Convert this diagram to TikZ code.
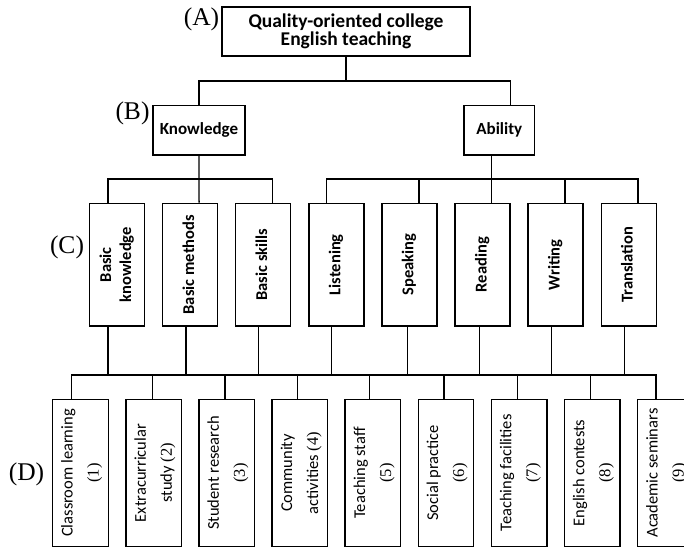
\documentclass[tikz,border=0pt]{standalone}
\usepackage{fontspec}
\setmainfont{Carlito}
\newfontfamily\seriffont{Liberation Serif}
\usepackage{graphicx}
\newcommand{\uptext}[1]{\rotatebox{90}{\begin{tabular}{@{}c@{}}#1\end{tabular}}}
\newcommand{\itemno}[1]{{\seriffont(#1)}}
\tikzset{
    link/.style={line width=1.3pt},
    box/.style={draw, line width=1.4pt, inner sep=0pt, align=center,
        font=\fontsize{16.5}{20}\selectfont\bfseries},
    cbox/.style={box, minimum width=55pt, minimum height=122.7pt},
    dbox/.style={box, minimum width=55.5pt, minimum height=147.4pt,
        font=\fontsize{16.5}{26}\selectfont},
    level/.style={inner sep=0pt, font=\seriffont\fontsize{25.5}{25.5}\selectfont}
}
\begin{document}
\begin{tikzpicture}[x=1pt, y=-1pt]
    \useasboundingbox (0,0) rectangle (684,548);

    % levels A and B
    \node[box, minimum width=248pt, minimum height=49pt,
        font=\fontsize{19.5}{18}\selectfont\bfseries] (top) at (346,31.5)
        {Quality-oriented college\\English teaching};
    \node[box, minimum width=92.3pt, minimum height=49.3pt,
        font=\fontsize{17}{20}\selectfont\bfseries] (know) at (199,130.3) {Knowledge};
    \node[box, minimum width=70.7pt, minimum height=49.3pt,
        font=\fontsize{17}{20}\selectfont\bfseries] (abil) at (499.3,130.3) {Ability};

    % level C
    \node[cbox] (c1) at (117,264.7) {\uptext{Basic\\knowledge}};
    \node[cbox] (c2) at (190.1,264.7) {\uptext{Basic methods}};
    \node[cbox] (c3) at (263.2,264.7) {\uptext{Basic skills}};
    \node[cbox] (c4) at (336.3,264.7) {\uptext{Listening}};
    \node[cbox] (c5) at (409.4,264.7) {\uptext{Speaking}};
    \node[cbox] (c6) at (482.5,264.7) {\uptext{Reading}};
    \node[cbox] (c7) at (555.6,264.7) {\uptext{Writing}};
    \node[cbox] (c8) at (628.7,264.7) {\uptext{Translation}};

    % level D
    \node[dbox] (d1) at (80.5,473) {\uptext{Classroom learning\\\itemno{1}}};
    \node[dbox] (d2) at (153.6,473) {\uptext{Extracurricular\\study \itemno{2}}};
    \node[dbox] (d3) at (226.7,473) {\uptext{Student research\\\itemno{3}}};
    \node[dbox] (d4) at (299.8,473) {\uptext{Community\\activities \itemno{4}}};
    \node[dbox] (d5) at (372.9,473) {\uptext{Teaching staff\\\itemno{5}}};
    \node[dbox] (d6) at (446,473) {\uptext{Social practice\\\itemno{6}}};
    \node[dbox] (d7) at (519.1,473) {\uptext{Teaching facilities\\\itemno{7}}};
    \node[dbox] (d8) at (592.2,473) {\uptext{English contests\\\itemno{8}}};
    \node[dbox] (d9) at (665.3,473) {\uptext{Academic seminars\\\itemno{9}}};

    % level marks
    \node[level] (la) at (201.5,19) {(A)};
    \node[level] (lb) at (132.5,113) {(B)};
    \node[level] (lc) at (67,247) {(C)};
    \node[level] (ld) at (26.5,474) {(D)};

    % bus lines
    \coordinate (busA) at (0,81);
    \coordinate (busB) at (0,179);
    \coordinate (busD) at (0,375);

    \draw[link] (top.south) -- (top.south |- busA);
    \draw[link] (know.north) |- ([xshift=11pt]abil.north |- busA) -- ([xshift=11pt]abil.north);

    \draw[link] (know.south) -- ([xshift=9pt]c2.north);
    \draw[link] ([xshift=-9pt]c1.north) |- ([xshift=9pt]c3.north |- busB) -- ([xshift=9pt]c3.north);

    \draw[link] ([xshift=9.2pt]c6.north) -- ([xshift=9.2pt]c6.north |- abil.south);
    \draw[link] ([xshift=-9.6pt]c4.north) |- ([xshift=9.3pt]c8.north |- busB) -- ([xshift=9.3pt]c8.north);
    \draw[link] ([xshift=9.6pt]c5.north) -- ([xshift=9.6pt]c5.north |- busB);
    \draw[link] ([xshift=9.4pt]c7.north) -- ([xshift=9.4pt]c7.north |- busB);

    \foreach \n/\s in {c1/-9, c2/-4, c3/-5, c4/-4.6, c5/-1.7, c6/-3.2, c7/-4.3, c8/-4.4}
        \draw[link] ([xshift=\s pt]\n.south) -- ([xshift=\s pt]\n.south |- busD);

    \draw[link] ([xshift=-9pt]d1.north) |- ([xshift=-9.3pt]d9.north |- busD) -- ([xshift=-9.3pt]d9.north);
    \foreach \n/\s in {d2/-1, d3/-1.7, d4/-2, d5/-3.6, d6/-2, d7/-1.8, d8/-2}
        \draw[link] ([xshift=\s pt]\n.north) -- ([xshift=\s pt]\n.north |- busD);
\end{tikzpicture}
\end{document}
